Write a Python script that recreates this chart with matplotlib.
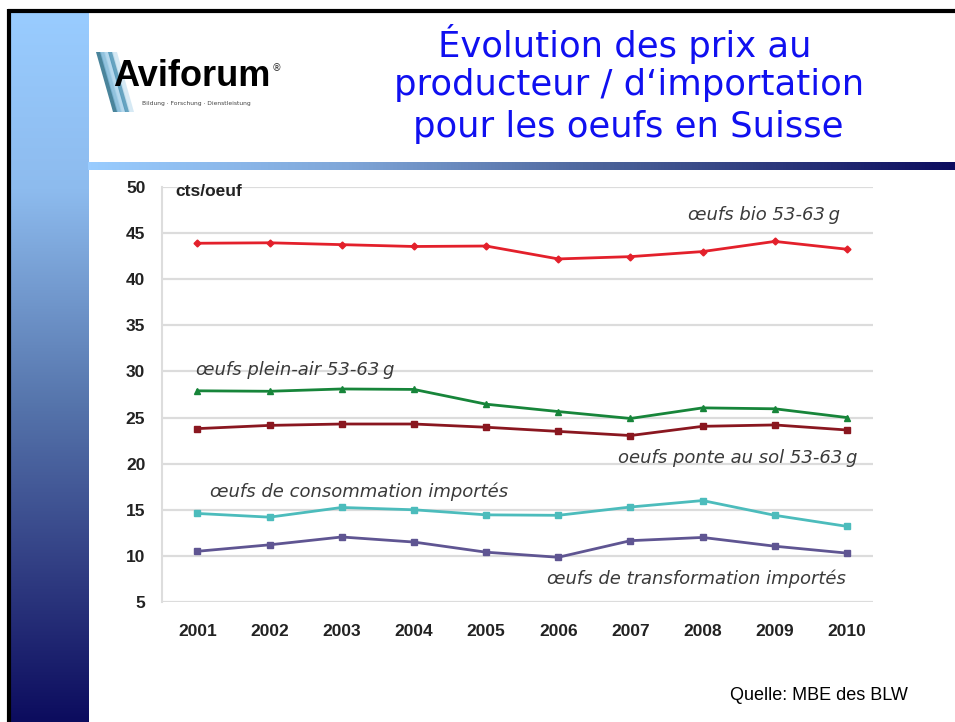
import numpy as np
import matplotlib
matplotlib.use("Agg")
import matplotlib.pyplot as plt
from matplotlib.colors import LinearSegmentedColormap
from matplotlib.patches import Polygon

# ---------------- data ----------------
years = ["2001", "2002", "2003", "2004", "2005", "2006", "2007", "2008", "2009", "2010"]
bio = [43.9, 43.95, 43.75, 43.55, 43.6, 42.2, 42.45, 43.0, 44.1, 43.25]
plein_air = [27.9, 27.85, 28.1, 28.05, 26.45, 25.65, 24.9, 26.05, 25.95, 25.0]
sol = [23.8, 24.15, 24.3, 24.3, 23.95, 23.5, 23.05, 24.05, 24.2, 23.65]
consommation = [14.6, 14.2, 15.25, 15.0, 14.45, 14.4, 15.3, 16.0, 14.4, 13.2]
transformation = [10.5, 11.2, 12.05, 11.5, 10.4, 9.85, 11.65, 12.0, 11.05, 10.3]
yticks = [5, 10, 15, 20, 25, 30, 35, 40, 45, 50]

W, H = 955, 722
fig = plt.figure(figsize=(W / 100, H / 100), dpi=100)
fig.patch.set_facecolor("white")

# ---------------- background decorations (pixel coords) ----------------
bg = fig.add_axes([0, 0, 1, 1])
bg.set_xlim(0, W)
bg.set_ylim(H, 0)
bg.axis("off")

side_cmap = LinearSegmentedColormap.from_list(
    "side", [(0, "#99ccff"), (0.25, "#8dbbee"), (0.55, "#5675ac"),
             (0.78, "#323f84"), (1, "#0c0c5e")])
grad_v = np.linspace(0, 1, 256).reshape(-1, 1)
bg.imshow(grad_v, cmap=side_cmap, extent=(10, 88, H, 12), aspect="auto", zorder=1)

bar_cmap = LinearSegmentedColormap.from_list(
    "bar", [(0, "#99ccff"), (0.3, "#7fa6d8"), (0.6, "#4a6198"), (1, "#0c0c5e")])
grad_h = np.linspace(0, 1, 256).reshape(1, -1)
bg.imshow(grad_h, cmap=bar_cmap, extent=(88, W, 170, 162), aspect="auto", zorder=1)

# black border lines
bg.plot([8, W], [10.5, 10.5], color="black", lw=3, zorder=3, solid_capstyle="butt")
bg.plot([8.5, 8.5], [9, H], color="black", lw=3, zorder=3, solid_capstyle="butt")

# logo stripes
stripe_cols = ["#2a6f8a", "#7fb8d8", "#a9d2ea", "#4b93b5", "#cfe6f3"]
for i, c in enumerate(stripe_cols):
    x0 = 96 + i * 4
    poly = Polygon([[x0, 52], [x0 + 5, 52], [x0 + 22, 112], [x0 + 17, 112]],
                   closed=True, facecolor=c, edgecolor="none", alpha=0.85, zorder=2)
    bg.add_patch(poly)
bg.text(113, 76, "Aviforum", fontsize=26, fontweight="bold", color="black",
        family="Liberation Sans", ha="left", va="center", zorder=4)
bg.text(272, 68, "®", fontsize=7, color="#333333", ha="left", va="center", zorder=4)
bg.text(142, 104, "Bildung \u00b7 Forschung \u00b7 Dienstleistung", fontsize=4.3,
        color="#444444", ha="left", va="center", zorder=4)

# title
title_col = "#1010f0"
for txt, y, xc in [("Évolution des prix au", 44, 625),
                   ("producteur / d\u2018importation", 85, 629),
                   ("pour les oeufs en Suisse", 127, 628)]:
    bg.text(xc, y, txt, fontsize=25.5, color=title_col, family="DejaVu Sans",
            ha="center", va="center", zorder=4)

# source
bg.text(908, 695, "Quelle: MBE des BLW", fontsize=13, color="black",
        family="Liberation Sans", ha="right", va="center", zorder=4)

# ---------------- main chart ----------------
left, right = 162 / W, 873 / W
bottom, top = (H - 602) / H, (H - 187) / H
ax = fig.add_axes([left, bottom, right - left, top - bottom])
ax.set_facecolor("none")
x = np.arange(len(years))

series = [
    (bio, "#e3202b", "D", 3.5),
    (plein_air, "#17853a", "^", 5),
    (sol, "#8a1720", "s", 5),
    (consommation, "#4cbcbc", "s", 5),
    (transformation, "#5f5592", "s", 4.5),
]
for vals, col, mk, ms in series:
    ax.plot(x, vals, color=col, lw=2, marker=mk, markersize=ms, zorder=3)

ax.set_xlim(-0.49, 9.36)
ax.set_ylim(5, 50)
ax.set_yticks(yticks)
ax.set_xticks(x)
ax.set_xticklabels(years)
for sp in ["top", "right", "bottom"]:
    ax.spines[sp].set_visible(False)
ax.spines["left"].set_color("#dddddd")
ax.spines["left"].set_linewidth(1.5)
ax.yaxis.grid(True, color="#dcdcdc", lw=1.6)
ax.set_axisbelow(True)
ax.tick_params(axis="both", length=0, labelsize=12.5, colors="#222222")
ax.tick_params(axis="y", pad=12)
ax.tick_params(axis="x", pad=16)
for lab in ax.get_xticklabels() + ax.get_yticklabels():
    lab.set_fontweight("bold")
    lab.set_family("Liberation Sans")

ax.text(-0.31, 49.5, "cts/oeuf", fontsize=12.5, fontweight="bold", color="#222222",
        family="Liberation Sans", ha="left", va="center")

ann = dict(fontsize=13, style="italic", color="#3a3a3a",
           family="DejaVu Sans", va="center")
ax.text(8.9, 47.0, "œufs bio 53-63\u2009g", ha="right", **ann)
ax.text(-0.02, 30.2, "œufs plein-air 53-63\u2009g", ha="left", **ann)
ax.text(9.15, 20.6, "oeufs ponte au sol 53-63\u2009g", ha="right", **ann)
ax.text(0.18, 17.0, "œufs de consommation importés", ha="left", **ann)
ax.text(8.98, 7.55, "œufs de transformation importés", ha="right", **ann)

fig.savefig("out.png", dpi=100, facecolor="white")
